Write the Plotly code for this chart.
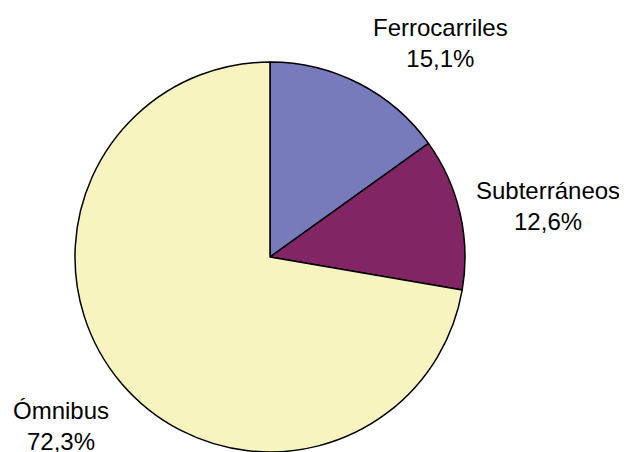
import plotly.graph_objects as go

categories = ["Ferrocarriles", "Subterráneos", "Ómnibus"]
values = [15.1, 12.6, 72.3]
pct_labels = ["15,1%", "12,6%", "72,3%"]
colors = ["#777BBB", "#812565", "#F8F4C0"]

OFF = 8  # default page body margin
W, H = 627 - OFF, 452 - OFF
cx, cy, r = 270 - OFF, 257 - OFF, 195


def px_x(p):
    return (p - OFF) / W


def px_y(p):
    return 1 - (p - OFF) / H


fig = go.Figure(go.Pie(
    labels=categories,
    values=values,
    sort=False,
    direction="clockwise",
    rotation=0,
    textinfo="none",
    hoverinfo="label+percent",
    marker=dict(colors=colors, line=dict(color="black", width=1.5)),
    domain=dict(x=[(cx - r) / W, (cx + r) / W], y=[max(0, (H - cy - r) / H), (H - cy + r) / H]),
    showlegend=False,
))

label_pos = [(440, 43), (548, 206), (61, 426)]
for name, pct, (px, py) in zip(categories, pct_labels, label_pos):
    fig.add_annotation(
        x=px_x(px), y=px_y(py), xref="paper", yref="paper",
        text=f"{name}<br>{pct}", showarrow=False,
        xanchor="center", yanchor="middle", align="center",
        font=dict(family="Liberation Sans, Arial, sans-serif", size=24, color="black"),
    )

fig.update_layout(
    width=W, height=H,
    margin=dict(l=0, r=0, t=0, b=0),
    paper_bgcolor="white", plot_bgcolor="white",
)

fig.write_html("out.html")
